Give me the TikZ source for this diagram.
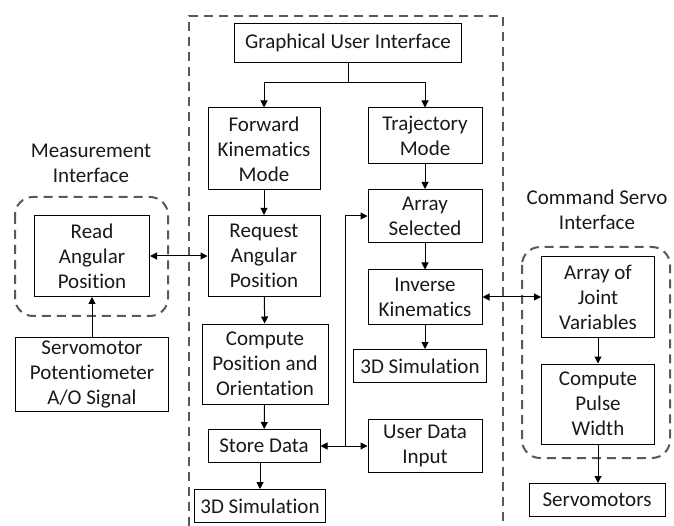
\documentclass[tikz,border=0pt]{standalone}
\usepackage{fontspec}
\setmainfont[Ligatures=NoCommon]{Carlito}
\usetikzlibrary{arrows.meta}
\begin{document}
\begin{tikzpicture}[x=1pt,y=-1pt,
  box/.style={draw=black, line width=1pt, fill=white, align=center, inner sep=1pt,
    font=\fontsize{21}{25}\selectfont, text=black!90},
  lbl/.style={align=center, font=\fontsize{21}{25}\selectfont, text=black!90},
  grp/.style={draw=black!65, line width=2pt, dash pattern=on 9pt off 6pt},
  arr/.style={line width=1pt, -{Triangle[length=7pt,width=7pt]}},
  darr/.style={line width=1pt, {Triangle[length=7pt,width=7pt]}-{Triangle[length=7pt,width=7pt]}},
  ln/.style={line width=1pt}]
\useasboundingbox (0,0) rectangle (674,526);
% group frames
\draw[grp] (189,526) -- (189,16) -- (503,16) -- (503,526);
\draw[grp, rounded corners=18pt] (15,197) rectangle (168,316);
\draw[grp, rounded corners=18pt] (522,247) rectangle (670,458);
% labels
\node[lbl] (mlab) at (91,163) {Measurement\\Interface};
\node[lbl] (clab) at (597,210) {Command Servo\\Interface};
% central column
\node[box, minimum width=227pt, minimum height=39pt] (gui) at (348,43) {Graphical User Interface};
\node[box, minimum width=112pt, minimum height=82pt] (fk) at (264,149) {Forward\\Kinematics\\Mode};
\node[box, minimum width=114pt, minimum height=56pt] (traj) at (425,136) {Trajectory\\Mode};
\node[box, minimum width=114pt, minimum height=53pt] (asel) at (425,216) {Array\\Selected};
\node[box, minimum width=114pt, minimum height=54pt] (ik) at (425,297) {Inverse\\Kinematics};
\node[box, minimum width=133pt, minimum height=33pt] (sim2) at (420,366) {3D Simulation};
\node[box, minimum width=112pt, minimum height=81pt] (req) at (264,256) {Request\\Angular\\Position};
\node[box, minimum width=126pt, minimum height=80pt] (comp) at (265,364) {Compute\\Position and\\Orientation};
\node[box, minimum width=112pt, minimum height=33pt] (store) at (264,446) {Store Data};
\node[box, minimum width=114pt, minimum height=53pt] (udi) at (425,446) {User Data\\Input};
\node[box, minimum width=131pt, minimum height=33pt] (sim1) at (260,506) {3D Simulation};
% left
\node[box, minimum width=115pt, minimum height=81pt] (read) at (92,256) {Read\\Angular\\Position};
\node[box, minimum width=153pt, minimum height=74pt] (servo) at (92,374) {Servomotor\\Potentiometer\\A/O Signal};
% right
\node[box, minimum width=113pt, minimum height=81pt] (ajv) at (598,297) {Array of\\Joint\\Variables};
\node[box, minimum width=113pt, minimum height=80pt] (cpw) at (598,404) {Compute\\Pulse\\Width};
\node[box, minimum width=136pt, minimum height=33pt] (smot) at (597,500) {Servomotors};
% connectors
\coordinate (split) at (348,83);
\coordinate (j) at (345,446);
\draw[ln] (gui.south) -- (split);
\draw[arr] (split) -| (fk.north);
\draw[arr] (split) -| (traj.north);
\draw[arr] (fk) -- (req);
\draw[arr] (req) -- (comp);
\draw[arr] (comp) -- (store);
\draw[arr] (store.south -| sim1.north) -- (sim1);
\draw[arr] (traj) -- (asel);
\draw[arr] (asel) -- (ik);
\draw[arr] (ik) -- (ik.south |- sim2.north);
\draw[darr] (store) -- (udi);
\draw[arr] (j) |- (asel.west);
\draw[darr] (read) -- (req);
\draw[arr] (servo) -- (read);
\draw[darr] (ik) -- (ajv);
\draw[arr] (ajv) -- (cpw);
\draw[arr] (cpw) -- (cpw.south |- smot.north);
\end{tikzpicture}
\end{document}
